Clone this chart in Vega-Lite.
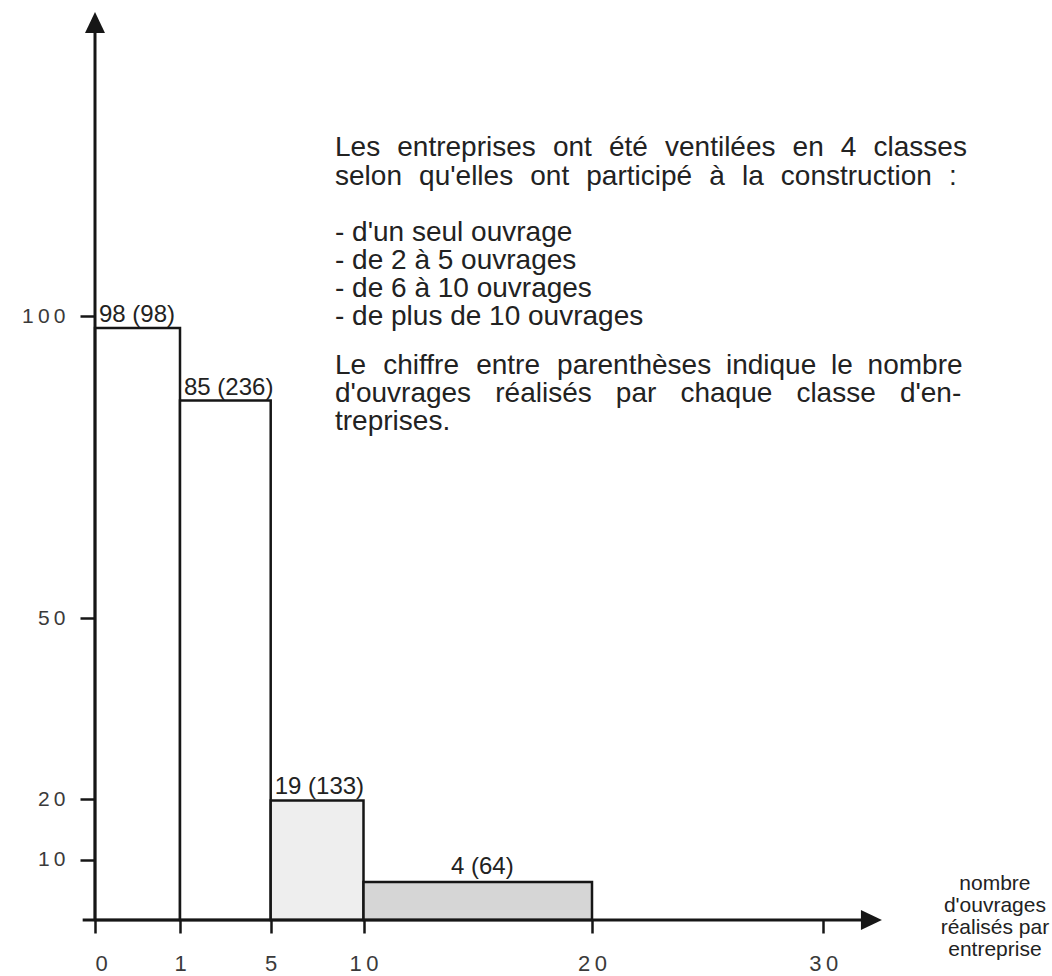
{
  "$schema": "https://vega.github.io/schema/vega-lite/v6.json",
  "width": 957,
  "height": 920,
  "autosize": {"type": "none"},
  "padding": {"left": 95, "top": 0, "right": 0, "bottom": 56},
  "background": "#ffffff",
  "config": {"view": {"stroke": null}, "font": "Liberation Sans"},
  "datasets": {
    "classes": [
      {"classe": "d'un seul ouvrage", "debut": 0, "fin": 1, "hauteur": 98, "etiquette": "98 (98)"},
      {"classe": "de 2 à 5 ouvrages", "debut": 1, "fin": 5, "hauteur": 86, "etiquette": "85 (236)"},
      {"classe": "de 6 à 10 ouvrages", "debut": 5, "fin": 10, "hauteur": 19.8, "etiquette": "19 (133)"},
      {"classe": "de plus de 10 ouvrages", "debut": 10, "fin": 20, "hauteur": 6.3, "etiquette": "4 (64)"}
    ]
  },
  "layer": [
    {
      "data": {"name": "classes"},
      "mark": {"type": "rect", "stroke": "#161616", "strokeWidth": 2.5},
      "encoding": {
        "x": {"field": "debut", "type": "quantitative",
          "scale": {"type": "linear", "domain": [0, 1, 5, 10, 20, 30, 40], "range": [0, 85, 175.7, 268.5, 497, 728.3, 959.6], "nice": false, "zero": false},
          "axis": {"values": [0, 1, 5, 10, 20, 30], "title": null, "domain": false, "grid": false, "ticks": true, "tickSize": 13, "tickWidth": 2.5, "tickColor": "#161616", "labelFont": "Liberation Sans", "labelFontSize": 22, "labelColor": "#3a3a3a", "labelPadding": 20, "labelExpr": "datum.value == 10 ? '1\u20090' : datum.value == 20 ? '2\u20090' : datum.value == 30 ? '3\u20090' : datum.label", "labelOverlap": false}},
        "x2": {"field": "fin"},
        "y": {"field": "hauteur", "type": "quantitative",
          "scale": {"domain": [0, 152.32], "nice": false},
          "axis": {"values": [10, 20, 50, 100], "title": null, "domain": false, "grid": false, "ticks": true, "tickSize": 15, "tickWidth": 2.5, "tickColor": "#161616", "labelFont": "Liberation Sans", "labelFontSize": 21, "labelColor": "#3a3a3a", "labelPadding": 15, "labelExpr": "datum.value == 100 ? '1\u20090\u20090' : datum.value == 50 ? '5\u20090' : datum.value == 20 ? '2\u20090' : '1\u20090'", "labelOverlap": false}},
        "y2": {"datum": 0},
        "fill": {"field": "classe", "type": "nominal",
          "scale": {"domain": ["d'un seul ouvrage", "de 2 à 5 ouvrages", "de 6 à 10 ouvrages", "de plus de 10 ouvrages"], "range": ["#ffffff", "#ffffff", "#eeeeee", "#d6d6d6"]},
          "legend": null}
      }
    },
    {
      "data": {"values": [{}]},
      "mark": {"type": "rule", "stroke": "#161616", "strokeWidth": 3},
      "encoding": {
        "x": {"datum": -0.145, "type": "quantitative"},
        "x2": {"datum": 32.08},
        "y": {"datum": 0, "type": "quantitative"}
      }
    },
    {
      "data": {"values": [{}]},
      "mark": {"type": "rule", "stroke": "#161616", "strokeWidth": 3},
      "encoding": {
        "x": {"datum": 0, "type": "quantitative"},
        "y": {"datum": 0, "type": "quantitative"},
        "y2": {"datum": 148.6}
      }
    },
    {
      "data": {"values": [{}]},
      "mark": {"type": "point", "shape": "M0,-1L-0.95,1L0.95,1Z", "size": 441, "filled": true, "fill": "#161616", "strokeWidth": 0, "opacity": 1},
      "encoding": {
        "x": {"datum": 0, "type": "quantitative"},
        "y": {"datum": 148.6, "type": "quantitative"}
      }
    },
    {
      "data": {"values": [{}]},
      "mark": {"type": "point", "shape": "M1,0L-1,-0.95L-1,0.95Z", "size": 441, "filled": true, "fill": "#161616", "strokeWidth": 0, "opacity": 1},
      "encoding": {
        "x": {"datum": 32.08, "type": "quantitative"},
        "y": {"datum": 0, "type": "quantitative"}
      }
    },
    {
      "data": {"name": "classes"},
      "transform": [{"filter": "datum.debut < 10"}],
      "mark": {"type": "text", "align": "left", "baseline": "alphabetic", "dx": 4, "dy": -6, "fontSize": 24, "font": "Liberation Sans", "fill": "#222222"},
      "encoding": {
        "x": {"field": "debut", "type": "quantitative"},
        "y": {"field": "hauteur", "type": "quantitative"},
        "text": {"field": "etiquette"}
      }
    },
    {
      "data": {"name": "classes"},
      "transform": [{"filter": "datum.debut >= 10"}],
      "mark": {"type": "text", "align": "center", "baseline": "alphabetic", "dy": -8, "fontSize": 24, "font": "Liberation Sans", "fill": "#222222"},
      "encoding": {
        "x": {"datum": 15.2, "type": "quantitative"},
        "y": {"field": "hauteur", "type": "quantitative"},
        "text": {"field": "etiquette"}
      }
    },
    {
      "data": {"values": [{}]},
      "mark": {"type": "text", "align": "left", "baseline": "alphabetic", "fontSize": 28, "font": "Liberation Sans", "fill": "#222222", "text": "Les\u2004 entreprises\u2004 ont\u2004 été\u2004 ventilées\u2004 en\u2004 4\u2004 classes"},
      "encoding": {"x": {"datum": 8.465, "type": "quantitative"}, "y": {"datum": 126.41, "type": "quantitative"}}
    },
    {
      "data": {"values": [{}]},
      "mark": {"type": "text", "align": "left", "baseline": "alphabetic", "fontSize": 28, "font": "Liberation Sans", "fill": "#222222", "text": "selon\u2004 qu'elles\u2004 ont\u2004 participé\u2004 à\u2004 la\u2004 construction\u2004 :"},
      "encoding": {"x": {"datum": 8.465, "type": "quantitative"}, "y": {"datum": 121.77, "type": "quantitative"}}
    },
    {
      "data": {"values": [{}]},
      "mark": {"type": "text", "align": "left", "baseline": "alphabetic", "fontSize": 28, "lineHeight": 28, "font": "Liberation Sans", "fill": "#222222",
        "text": ["- d'un seul ouvrage", "- de 2 à 5 ouvrages", "- de 6 à 10 ouvrages", "- de plus de 10 ouvrages"]},
      "encoding": {"x": {"datum": 8.465, "type": "quantitative"}, "y": {"datum": 112.5, "type": "quantitative"}}
    },
    {
      "data": {"values": [{}]},
      "mark": {"type": "text", "align": "left", "baseline": "alphabetic", "fontSize": 28, "font": "Liberation Sans", "fill": "#222222", "text": "Le\u2004 chiffre\u2004 entre\u2004 parenthèses\u2005 indique\u2005 le\u2005 nombre"},
      "encoding": {"x": {"datum": 8.465, "type": "quantitative"}, "y": {"datum": 90.4, "type": "quantitative"}}
    },
    {
      "data": {"values": [{}]},
      "mark": {"type": "text", "align": "left", "baseline": "alphabetic", "fontSize": 28, "font": "Liberation Sans", "fill": "#222222", "text": "d'ouvrages\u2004\u2005 réalisés\u2004\u2005 par\u2004\u2005 chaque\u2004\u2005 classe\u2004\u2005 d'en-"},
      "encoding": {"x": {"datum": 8.465, "type": "quantitative"}, "y": {"datum": 85.76, "type": "quantitative"}}
    },
    {
      "data": {"values": [{}]},
      "mark": {"type": "text", "align": "left", "baseline": "alphabetic", "fontSize": 28, "font": "Liberation Sans", "fill": "#222222", "text": "treprises."},
      "encoding": {"x": {"datum": 8.465, "type": "quantitative"}, "y": {"datum": 81.13, "type": "quantitative"}}
    },
    {
      "data": {"values": [{}]},
      "mark": {"type": "text", "align": "center", "baseline": "alphabetic", "fontSize": 21, "lineHeight": 22, "font": "Liberation Sans", "fill": "#222222",
        "text": ["nombre", "d'ouvrages", "réalisés par", "entreprise"]},
      "encoding": {"x": {"datum": 37.42, "type": "quantitative"}, "y": {"datum": 4.97, "type": "quantitative"}}
    }
  ]
}
